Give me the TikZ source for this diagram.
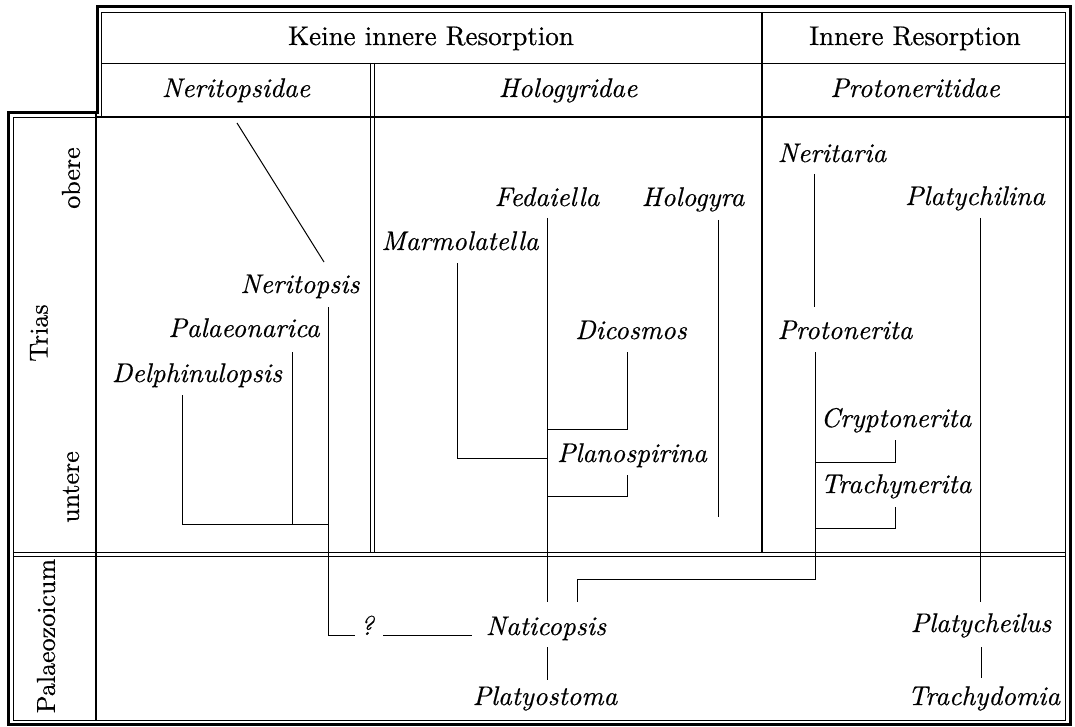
\documentclass[tikz,border=0pt]{standalone}
\usepackage{fontspec}
\newfontfamily\upf{lmroman10-regular.otf}[FakeBold=0.5]
\newfontfamily\itf{lmroman10-italic.otf}[FakeBold=0.5]
\tikzset{
  lab/.style={font=\itf\fontsize{27}{31}\selectfont, anchor=base, inner sep=0pt},
  hd/.style={font=\upf\fontsize{27}{31}\selectfont, anchor=base, inner sep=0pt},
  rotlab/.style={font=\upf\fontsize{26}{30}\selectfont, rotate=90, inner sep=0pt, anchor=center},
  ln/.style={line width=1pt},
  thickframe/.style={line width=3pt, line join=miter},
  thinframe/.style={line width=0.9pt},
  sep/.style={line width=2pt},
  dsep/.style={line width=0.9pt}
}
\begin{document}
\begin{tikzpicture}[x=1pt,y=-1pt]
\useasboundingbox (0,0) rectangle (1075,727);
% frame
\draw[thickframe] (8,724) -- (8,113) -- (97,113) -- (97,7) -- (1070,7) -- (1070,724) -- cycle;
\draw[thinframe] (13,720) -- (13,117) -- (101,117) -- (101,12) -- (1065,12) -- (1065,720) -- cycle;
\draw[dsep] (101,63) -- (1065,63);
\draw[sep] (97,117) -- (1070,117);
\draw[sep] (96,113) -- (96,720);
\draw[sep] (762,12) -- (762,552);
\draw[dsep] (370,63) -- (370,552);
\draw[dsep] (374.5,63) -- (374.5,552);
\draw[dsep] (13,552.5) -- (1065,552.5);
\draw[dsep] (13,556.5) -- (1065,556.5);

% headers
\node[hd] (keine) at (431,45) {Keine innere Resorption};
\node[hd] (innere) at (915,45) {Innere Resorption};
\node[lab] (neritopsidae) at (236,97) {Neritopsidae};
\node[lab] (hologyridae) at (568,97) {Hologyridae};
\node[lab] (protoneritidae) at (915,97) {Protoneritidae};

% row labels
\node[rotlab] (trias) at (39,333) {Trias};
\node[rotlab] (obere) at (71,178) {obere};
\node[rotlab] (untere) at (71,487) {untere};
\node[rotlab] (palaeo) at (46,636) {Palaeozoicum};

% genus labels
\node[lab] (neritopsis) at (300,293) {Neritopsis};
\node[lab] (palaeonarica) at (244,337) {Palaeonarica};
\node[lab] (delphinulopsis) at (197,382) {Delphinulopsis};
\node[lab] (marmolatella) at (460,250) {Marmolatella};
\node[lab] (fedaiella) at (547,206) {Fedaiella};
\node[lab] (hologyra) at (693,206) {Hologyra};
\node[lab] (dicosmos) at (631,339) {Dicosmos};
\node[lab] (planospirina) at (632,462) {Planospirina};
\node[lab] (neritaria) at (832,162) {Neritaria};
\node[lab] (platychilina) at (975,205) {Platychilina};
\node[lab] (protonerita) at (845,339) {Protonerita};
\node[lab] (cryptonerita) at (896,427) {Cryptonerita};
\node[lab] (trachynerita) at (896,493) {Trachynerita};
\node[lab] (naticopsis) at (546,635) {Naticopsis};
\node[lab] (platyostoma) at (545,705) {Platyostoma};
\node[lab] (platycheilus) at (981,632) {Platycheilus};
\node[lab] (trachydomia) at (984,705) {Trachydomia};
\node[lab] (q) at (367,635) {?};

% coordinates
\coordinate (nd1) at (237,123);
\coordinate (nd2) at (324,262);
\coordinate (ns1) at (328,307);
\coordinate (ns2) at (328,635);
\coordinate (ns3) at (355,635);
\coordinate (pa1) at (292,352);
\coordinate (pa2) at (292,524);
\coordinate (de1) at (182,395);
\coordinate (de2) at (182,524);
\coordinate (de3) at (328,524);
\coordinate (fe1) at (547,218);
\coordinate (fe2) at (547,602);
\coordinate (ma1) at (457,263);
\coordinate (ma2) at (457,458);
\coordinate (ma3) at (547,458);
\coordinate (di1) at (627,352);
\coordinate (di2) at (627,429);
\coordinate (di3) at (547,429);
\coordinate (pl1) at (627,475);
\coordinate (pl2) at (627,496);
\coordinate (pl3) at (547,496);
\coordinate (ho1) at (718,220);
\coordinate (ho2) at (718,517);
\coordinate (ne1) at (814,174);
\coordinate (ne2) at (814,307);
\coordinate (pr1) at (815,352);
\coordinate (pr2) at (815,579);
\coordinate (pr3) at (577,579);
\coordinate (pr4) at (577,602);
\coordinate (cr1) at (895,440);
\coordinate (cr2) at (895,462);
\coordinate (cr3) at (815,462);
\coordinate (tr1) at (895,507);
\coordinate (tr2) at (895,528);
\coordinate (tr3) at (815,528);
\coordinate (pc1) at (980,218);
\coordinate (pc2) at (980,602);
\coordinate (qa) at (383,635);
\coordinate (qb) at (472,635);
\coordinate (na1) at (547,647);
\coordinate (na2) at (547,680);
\coordinate (pe1) at (981,647);
\coordinate (pe2) at (981,678);

% connectors
\draw[ln] (nd1) -- (nd2);
\draw[ln] (ns1) -- (ns2) -- (ns3);
\draw[ln] (pa1) -- (pa2);
\draw[ln] (de1) -- (de2) -- (de3);
\draw[ln] (fe1) -- (fe2);
\draw[ln] (ma1) -- (ma2) -- (ma3);
\draw[ln] (di1) -- (di2) -- (di3);
\draw[ln] (pl1) -- (pl2) -- (pl3);
\draw[ln] (ho1) -- (ho2);
\draw[ln] (ne1) -- (ne2);
\draw[ln] (pr1) -- (pr2) -- (pr3) -- (pr4);
\draw[ln] (cr1) -- (cr2) -- (cr3);
\draw[ln] (tr1) -- (tr2) -- (tr3);
\draw[ln] (pc1) -- (pc2);
\draw[ln] (qa) -- (qb);
\draw[ln] (na1) -- (na2);
\draw[ln] (pe1) -- (pe2);
\end{tikzpicture}
\end{document}
